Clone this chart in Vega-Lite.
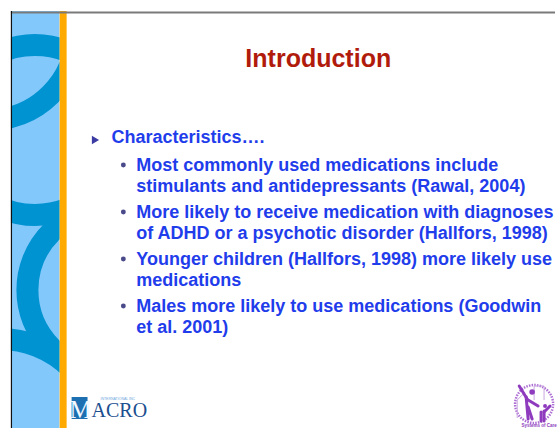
{
  "$schema": "https://vega.github.io/schema/vega-lite/v6.json",
  "width": 558,
  "height": 428,
  "autosize": {"type": "fit", "contains": "padding"},
  "padding": 0,
  "background": "white",
  "config": {"view": {"stroke": null}},
  "datasets": {
    "rects": [
      {"part": "band", "x1": 11, "x2": 60, "y1": 11, "y2": 428},
      {"part": "cover", "x1": 0, "x2": 11, "y1": 0, "y2": 428},
      {"part": "cover", "x1": 60, "x2": 558, "y1": 0, "y2": 428},
      {"part": "cover", "x1": 0, "x2": 558, "y1": 0, "y2": 11},
      {"part": "orange", "x1": 60, "x2": 67, "y1": 11, "y2": 428},
      {"part": "logo", "x1": 72, "x2": 88, "y1": 397, "y2": 419}
    ],
    "rings": [
      {"x": 35, "y": 130, "r": 85},
      {"x": -11, "y": 33, "r": 87},
      {"x": 110, "y": 290, "r": 82},
      {"x": 0, "y": 440, "r": 101}
    ],
    "lines": [
      {"part": "top", "x1": 11, "x2": 558, "y1": 12.5, "y2": 12.5},
      {"part": "left", "x1": 11.5, "x2": 11.5, "y1": 11, "y2": 428}
    ],
    "texts": [
      {"role": "title", "text": "Introduction", "x": 320, "y": 67},
      {"role": "l1", "text": "Characteristics….", "x": 112, "y": 143},
      {"role": "l2", "text": "Most commonly used medications include", "x": 137, "y": 171},
      {"role": "l2", "text": "stimulants and antidepressants (Rawal, 2004)", "x": 137, "y": 192},
      {"role": "l2", "text": "More likely to receive medication with diagnoses", "x": 137, "y": 218},
      {"role": "l2", "text": "of ADHD or a psychotic disorder (Hallfors, 1998)", "x": 137, "y": 239},
      {"role": "l2", "text": "Younger children (Hallfors, 1998) more likely use", "x": 137, "y": 265},
      {"role": "l2", "text": "medications", "x": 137, "y": 286},
      {"role": "l2", "text": "Males more likely to use medications (Goodwin", "x": 137, "y": 312},
      {"role": "l2", "text": "et al. 2001)", "x": 137, "y": 333}
    ],
    "bullets": [
      {"level": "arrow", "x": 96, "y": 140},
      {"level": "dot", "x": 124, "y": 165},
      {"level": "dot", "x": 124, "y": 212},
      {"level": "dot", "x": 124, "y": 259},
      {"level": "dot", "x": 124, "y": 306}
    ],
    "logotext": [
      {"part": "M", "text": "M", "x": 81, "y": 418},
      {"part": "ACRO", "text": "ACRO", "x": 92, "y": 417},
      {"part": "intl", "text": "INTERNATIONAL INC", "x": 101, "y": 399.5},
      {"part": "soc", "text": "Systems of Care", "x": 542, "y": 427}
    ],
    "figure": [
      {"x1": 529, "y1": 397, "x2": 531, "y2": 419},
      {"x1": 530, "y1": 399, "x2": 522, "y2": 386},
      {"x1": 531, "y1": 400, "x2": 541, "y2": 406},
      {"x1": 531, "y1": 407, "x2": 535, "y2": 419},
      {"x1": 547, "y1": 411, "x2": 547, "y2": 421},
      {"x1": 547, "y1": 412, "x2": 553, "y2": 406},
      {"x1": 544, "y1": 412, "x2": 544, "y2": 421}
    ],
    "house": [
      {"x1": 520, "y1": 400, "x2": 520, "y2": 418},
      {"x1": 520, "y1": 400, "x2": 528, "y2": 392},
      {"x1": 537, "y1": 386, "x2": 537, "y2": 400},
      {"x1": 537, "y1": 386, "x2": 547, "y2": 386},
      {"x1": 547, "y1": 386, "x2": 547, "y2": 400}
    ],
    "heads": [
      {"x": 535, "y": 392, "r": 2.8},
      {"x": 548, "y": 406, "r": 2}
    ],
    "seal": [
      {"x": 537, "y": 404, "r": 19}
    ]
  },
  "encoding": {},
  "layer": [
    {
      "data": {"name": "rects"},
      "transform": [{"filter": "datum.part === 'band'"}],
      "mark": {"type": "rect", "clip": true},
      "encoding": {
        "x": {"field": "x1", "type": "quantitative", "scale": {"domain": [0, 558], "nice": false, "zero": false}, "axis": null},
        "x2": {"field": "x2"},
        "y": {"field": "y1", "type": "quantitative", "scale": {"domain": [0, 428], "nice": false, "zero": false, "reverse": true}, "axis": null},
        "y2": {"field": "y2"},
        "color": {"field": "part", "type": "nominal", "scale": {"domain": ["band", "cover", "orange", "logo"], "range": ["#82C8FB", "#FFFFFF", "#FFAA00", "#1C70B2"]}, "legend": null}
      }
    },
    {
      "data": {"name": "rings"},
      "mark": {"type": "point", "shape": "circle", "filled": false, "strokeWidth": 22, "opacity": 1, "clip": true},
      "encoding": {
        "x": {"field": "x", "type": "quantitative"},
        "y": {"field": "y", "type": "quantitative"},
        "size": {"field": "r", "type": "quantitative", "scale": {"type": "pow", "exponent": 2, "domain": [0, 100], "range": [0, 40000], "zero": true}, "legend": null},
        "stroke": {"value": "#0093D1"}
      }
    },
    {
      "data": {"name": "rects"},
      "transform": [{"filter": "datum.part !== 'band'"}],
      "mark": {"type": "rect", "clip": true},
      "encoding": {
        "x": {"field": "x1", "type": "quantitative"},
        "x2": {"field": "x2"},
        "y": {"field": "y1", "type": "quantitative"},
        "y2": {"field": "y2"},
        "color": {"field": "part", "type": "nominal", "legend": null}
      }
    },
    {
      "data": {"name": "lines"},
      "mark": {"type": "rule", "clip": true},
      "encoding": {
        "x": {"field": "x1", "type": "quantitative"},
        "x2": {"field": "x2"},
        "y": {"field": "y1", "type": "quantitative"},
        "y2": {"field": "y2"},
        "stroke": {"field": "part", "type": "nominal", "scale": {"domain": ["top", "left"], "range": ["#7A7A7A", "#111111"]}, "legend": null},
        "strokeWidth": {"field": "part", "type": "nominal", "scale": {"domain": ["top", "left"], "range": [1.8, 1.2]}, "legend": null}
      }
    },
    {
      "data": {"name": "texts"},
      "transform": [{"filter": "datum.role === 'title'"}],
      "mark": {"type": "text", "font": "Liberation Sans", "fontWeight": "bold", "fontSize": 25, "align": "center", "baseline": "alphabetic", "color": "#B11B0C"},
      "encoding": {
        "x": {"field": "x", "type": "quantitative"},
        "y": {"field": "y", "type": "quantitative"},
        "text": {"field": "text"}
      }
    },
    {
      "data": {"name": "texts"},
      "transform": [{"filter": "datum.role !== 'title'"}],
      "mark": {"type": "text", "font": "Liberation Sans", "fontWeight": "bold", "fontSize": 18, "align": "left", "baseline": "alphabetic", "color": "#1F3DEB"},
      "encoding": {
        "x": {"field": "x", "type": "quantitative"},
        "y": {"field": "y", "type": "quantitative"},
        "text": {"field": "text"}
      }
    },
    {
      "data": {"name": "bullets"},
      "transform": [{"filter": "datum.level === 'arrow'"}],
      "mark": {"type": "point", "shape": "triangle-right", "filled": true, "size": 70, "color": "#3B3BA3", "opacity": 1},
      "encoding": {
        "x": {"field": "x", "type": "quantitative"},
        "y": {"field": "y", "type": "quantitative"}
      }
    },
    {
      "data": {"name": "bullets"},
      "transform": [{"filter": "datum.level === 'dot'"}],
      "mark": {"type": "point", "shape": "circle", "filled": true, "size": 24, "color": "#4A4A8A", "opacity": 1},
      "encoding": {
        "x": {"field": "x", "type": "quantitative"},
        "y": {"field": "y", "type": "quantitative"}
      }
    },
    {
      "data": {"name": "logotext"},
      "transform": [{"filter": "datum.part === 'M'"}],
      "mark": {"type": "text", "font": "Liberation Serif", "fontSize": 25, "align": "center", "baseline": "alphabetic", "color": "#F2F8FF"},
      "encoding": {
        "x": {"field": "x", "type": "quantitative"},
        "y": {"field": "y", "type": "quantitative"},
        "text": {"field": "text"}
      }
    },
    {
      "data": {"name": "logotext"},
      "transform": [{"filter": "datum.part === 'ACRO'"}],
      "mark": {"type": "text", "font": "Liberation Serif", "fontSize": 20, "align": "left", "baseline": "alphabetic", "color": "#1B4F8F"},
      "encoding": {
        "x": {"field": "x", "type": "quantitative"},
        "y": {"field": "y", "type": "quantitative"},
        "text": {"field": "text"}
      }
    },
    {
      "data": {"name": "logotext"},
      "transform": [{"filter": "datum.part === 'intl'"}],
      "mark": {"type": "text", "font": "Liberation Sans", "fontSize": 3.5, "align": "left", "baseline": "alphabetic", "color": "#6FA8DC"},
      "encoding": {
        "x": {"field": "x", "type": "quantitative"},
        "y": {"field": "y", "type": "quantitative"},
        "text": {"field": "text"}
      }
    },
    {
      "data": {"name": "seal"},
      "mark": {"type": "point", "shape": "circle", "filled": false, "strokeWidth": 2.5, "strokeDash": [1.5, 1.2], "opacity": 0.8, "color": "#9A4CCB"},
      "encoding": {
        "x": {"field": "x", "type": "quantitative"},
        "y": {"field": "y", "type": "quantitative"},
        "size": {"field": "r", "type": "quantitative", "legend": null}
      }
    },
    {
      "data": {"name": "house"},
      "mark": {"type": "rule", "strokeWidth": 1, "color": "#C9A6E0"},
      "encoding": {
        "x": {"field": "x1", "type": "quantitative"},
        "x2": {"field": "x2"},
        "y": {"field": "y1", "type": "quantitative"},
        "y2": {"field": "y2"}
      }
    },
    {
      "data": {"name": "figure"},
      "mark": {"type": "rule", "strokeWidth": 3, "strokeCap": "round", "color": "#8E3BBE"},
      "encoding": {
        "x": {"field": "x1", "type": "quantitative"},
        "x2": {"field": "x2"},
        "y": {"field": "y1", "type": "quantitative"},
        "y2": {"field": "y2"}
      }
    },
    {
      "data": {"name": "heads"},
      "mark": {"type": "point", "shape": "circle", "filled": true, "opacity": 1, "color": "#8E3BBE"},
      "encoding": {
        "x": {"field": "x", "type": "quantitative"},
        "y": {"field": "y", "type": "quantitative"},
        "size": {"field": "r", "type": "quantitative", "legend": null}
      }
    },
    {
      "data": {"name": "logotext"},
      "transform": [{"filter": "datum.part === 'soc'"}],
      "mark": {"type": "text", "font": "Liberation Sans", "fontWeight": "bold", "fontSize": 4.5, "align": "center", "baseline": "alphabetic", "color": "#8E3BBE"},
      "encoding": {
        "x": {"field": "x", "type": "quantitative"},
        "y": {"field": "y", "type": "quantitative"},
        "text": {"field": "text"}
      }
    }
  ]
}
